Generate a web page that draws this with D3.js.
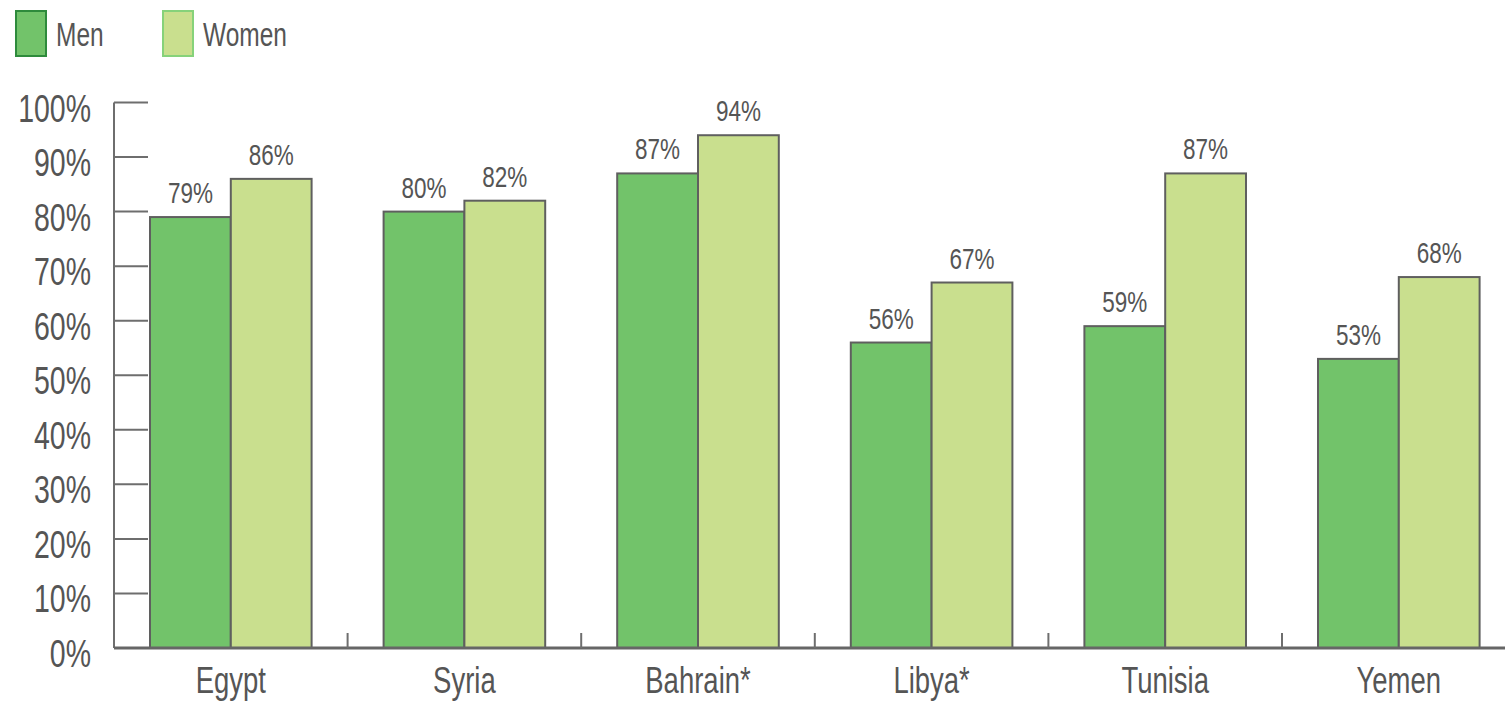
<!DOCTYPE html>
<html>
<head>
<meta charset="utf-8">
<script src="https://cdn.jsdelivr.net/npm/d3@7"></script>
<style>
  body { margin: 0; background: #fff; }
  text { font-family: "Liberation Sans", Arial, sans-serif; fill: #555; }
</style>
</head>
<body>
<svg id="chart" width="1505" height="704"></svg>
<script>
const countries = ["Egypt", "Syria", "Bahrain*", "Libya*", "Tunisia", "Yemen"];
const menValues = [79, 80, 87, 56, 59, 53];
const womenValues = [86, 82, 94, 67, 87, 68];
const yTicks = [0, 10, 20, 30, 40, 50, 60, 70, 80, 90, 100];
const seriesNames = ["Men", "Women"];

const data = countries.map((c, i) => ({ country: c, Men: menValues[i], Women: womenValues[i] }));

const svg = d3.select("#chart");
const stretch = 1.33; // text in the original is tall and narrow

const margin = { top: 102.5, left: 114, bottom: 56 };
const height = 704;
const axisY = height - margin.bottom;

const x0 = d3.scaleBand()
  .domain(countries)
  .range([margin.left, margin.left + 233.6 * countries.length]);

const x1 = d3.scaleBand()
  .domain(seriesNames)
  .range([36, x0.bandwidth() - 36]);

const y = d3.scaleLinear()
  .domain([0, 100])
  .range([axisY, margin.top]);

const color = d3.scaleOrdinal()
  .domain(seriesNames)
  .range(["#72c36a", "#c9df8e"]);

// helper for stretched text
function label(g, tx, ty, str, size, anchor) {
  g.append("text")
    .attr("transform", `translate(${tx},${ty}) scale(1,${stretch})`)
    .attr("text-anchor", anchor)
    .style("font-size", size + "px")
    .text(str);
}

// y axis
const yAxis = svg.append("g");
yAxis.append("line")
  .attr("x1", margin.left).attr("x2", margin.left)
  .attr("y1", y(100)).attr("y2", axisY)
  .attr("stroke", "#6e6e6e").attr("stroke-width", 2);

yTicks.forEach(t => {
  yAxis.append("line")
    .attr("x1", margin.left).attr("x2", margin.left + 34)
    .attr("y1", y(t)).attr("y2", y(t))
    .attr("stroke", "#6e6e6e").attr("stroke-width", 2);
  label(yAxis, 91, y(t) + 19, t + "%", 28.5, "end");
});

// bars
const groups = svg.append("g")
  .selectAll("g")
  .data(data)
  .join("g")
  .attr("transform", d => `translate(${x0(d.country)},0)`);

groups.selectAll("rect")
  .data(d => seriesNames.map(k => ({ key: k, value: d[k] })))
  .join("rect")
  .attr("x", d => x1(d.key))
  .attr("y", d => y(d.value))
  .attr("width", x1.bandwidth())
  .attr("height", d => axisY - y(d.value))
  .attr("fill", d => color(d.key))
  .attr("stroke", "#5f5f5f")
  .attr("stroke-width", 2);

groups.each(function(d) {
  const g = d3.select(this);
  seriesNames.forEach(k => {
    label(g, x1(k) + x1.bandwidth() / 2, y(d[k]) - 14, d[k] + "%", 22.5, "middle");
  });
});

// x axis
const xAxis = svg.append("g");
xAxis.append("line")
  .attr("x1", margin.left).attr("x2", 1505)
  .attr("y1", axisY).attr("y2", axisY)
  .attr("stroke", "#666").attr("stroke-width", 3);

countries.slice(1).forEach(c => {
  xAxis.append("line")
    .attr("x1", x0(c)).attr("x2", x0(c))
    .attr("y1", axisY - 15).attr("y2", axisY)
    .attr("stroke", "#6e6e6e").attr("stroke-width", 2);
});

countries.forEach(c => {
  label(xAxis, x0(c) + x0.bandwidth() / 2, axisY + 45, c, 27.5, "middle");
});

// legend
const legend = svg.append("g");
const legendX = [15, 162];
const legendStroke = ["#2e8b3c", "#86d27a"];
seriesNames.forEach((k, i) => {
  legend.append("rect")
    .attr("x", legendX[i] + 1).attr("y", 11)
    .attr("width", 30).attr("height", 45)
    .attr("fill", color(k))
    .attr("stroke", legendStroke[i])
    .attr("stroke-width", 2);
  label(legend, legendX[i] + 41, 46, k, 24.5, "start");
});
</script>
</body>
</html>
